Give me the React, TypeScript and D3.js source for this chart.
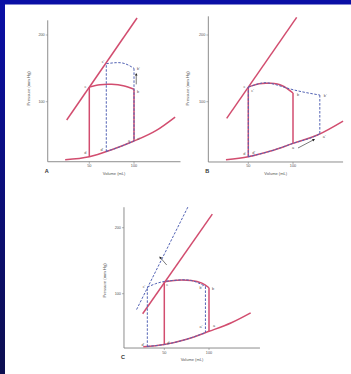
import React from "react";
import * as d3 from "d3";

// ---------- data ----------
const volumeTicks = [50, 100];
const pressureTicks = [100, 200];

// Panel A
const aEspvrV = [24.7, 103.4];
const aEspvrP = [72.6, 225.5];
const aEdpvrV = [23, 50, 75, 100, 125, 146];
const aEdpvrP = [13, 17.5, 28, 41, 57, 77];
const aLoopV = [50, 50, 62, 75, 88, 100, 100]; // d, c, arc..., b, a
const aLoopP = [17.5, 122, 125.5, 126, 124, 118.6, 41];
const aDashV = [69, 69, 80, 90, 100, 100]; // d', c', arc..., b', a'
const aDashP = [25, 157, 158.5, 157, 150, 41];

// Panel B
const bEspvrV = [25.8, 104.1];
const bEspvrP = [75, 226.5];
const bEdpvrV = [25, 50, 75, 100, 128, 156];
const bEdpvrP = [13, 17.5, 26, 37.5, 50.5, 71];
const bLoopV = [50, 50, 62, 75, 88, 100, 100];
const bLoopP = [17.5, 122, 127, 127.5, 124, 113, 37.5];
const bDashV = [50, 50, 62, 75, 100, 130, 130];
const bDashP = [17.5, 122, 127, 127.5, 118, 110, 50.5];

// Panel C
const cEspvrV = [25.8, 103.7];
const cEspvrP = [69.7, 220.6];
const cEspvr2V = [19, 77];
const cEspvr2P = [76, 233];
const cEdpvrV = [26.5, 50, 75, 100, 125, 146.6];
const cEdpvrP = [19.5, 23, 31, 43, 56, 71];
const cLoopV = [50, 50, 64, 80, 92, 100, 100];
const cLoopP = [23, 118, 120.5, 120, 116, 109, 43];
const cDashV = [31, 31, 40, 50, 64, 80, 96, 96];
const cDashP = [19.5, 110, 115, 118.5, 120.5, 120, 111, 41];

const RED = "#d24d6f";
const BLUE = "#5262b4";
const AXIS = "#808080";
const TXT = "#555";

type Lbl = { t: string; i: number; dx: number; dy: number; a: string };

type PanelProps = {
  ox: number; oy: number; ky: number;
  axisV: number; axisP: number; topP: number; endV: number;
  letter: string; titleX: number;
  espvrV: number[]; espvrP: number[];
  edV: number[]; edP: number[];
  loopV: number[]; loopP: number[];
  dashV: number[]; dashP: number[];
  dashEdFrom: number; dashEdTo: number;
  esp2V?: number[]; esp2P?: number[];
  arrow: [number, number, number, number];
  loopLabels: Lbl[];
  dashLabels: Lbl[];
};

function Panel(p: PanelProps) {
  const x = d3.scaleLinear().domain([0, 100]).range([p.ox, p.ox + 89.4]);
  const y = d3.scaleLinear().domain([0, 100]).range([p.oy, p.oy - p.ky * 100]);
  const pts = (vs: number[], ps: number[]) => vs.map((v, i) => [x(v), y(ps[i])] as [number, number]);
  const smooth = d3.line().curve(d3.curveMonotoneX);
  const straight = d3.line();
  const edPath = smooth(pts(p.edV, p.edP)) || "";
  const edFn = (v: number) => {
    for (let i = 0; i < p.edV.length - 1; i++) {
      if (v >= p.edV[i] && v <= p.edV[i + 1]) {
        const t = (v - p.edV[i]) / (p.edV[i + 1] - p.edV[i]);
        return p.edP[i] + t * (p.edP[i + 1] - p.edP[i]);
      }
    }
    return p.edP[p.edP.length - 1];
  };
  const edSegV = p.edV.filter((v) => v > p.dashEdFrom && v < p.dashEdTo);
  const edSegVs = [p.dashEdFrom, ...edSegV, p.dashEdTo];
  const edSegPath = smooth(pts(edSegVs, edSegVs.map(edFn))) || "";

  const lp = pts(p.loopV, p.loopP);
  const n = lp.length;
  const loopPaths = [
    straight([lp[0], lp[1]]) || "",
    d3.line().curve(d3.curveNatural)(lp.slice(1, n - 1)) || "",
    straight([lp[n - 2], lp[n - 1]]) || "",
  ];
  const dp = pts(p.dashV, p.dashP);
  const m = dp.length;
  const dashPaths = [
    straight([dp[0], dp[1]]) || "",
    d3.line().curve(d3.curveNatural)(dp.slice(1, m - 1)) || "",
    straight([dp[m - 2], dp[m - 1]]) || "",
  ];
  const [av1, ap1, av2, ap2] = p.arrow;
  const ax1 = x(av1), ay1 = y(ap1), ax2 = x(av2), ay2 = y(ap2);
  const ang = Math.atan2(ay2 - ay1, ax2 - ax1);
  const hl = 2.6, hw = 1.3;
  const head = `M${ax2},${ay2} L${ax2 - hl * Math.cos(ang) + hw * Math.sin(ang)},${ay2 - hl * Math.sin(ang) - hw * Math.cos(ang)} L${ax2 - hl * Math.cos(ang) - hw * Math.sin(ang)},${ay2 - hl * Math.sin(ang) + hw * Math.cos(ang)} Z`;

  const X0 = x(p.axisV), Y0 = y(p.axisP);
  const ff = "Liberation Sans, Arial, sans-serif";
  return (
    <g fontFamily={ff}>
      <line x1={X0} x2={X0} y1={y(p.topP)} y2={Y0} stroke={AXIS} strokeWidth={0.9} />
      <line x1={X0} x2={x(p.endV)} y1={Y0} y2={Y0} stroke={AXIS} strokeWidth={0.9} />
      {pressureTicks.map((t) => (
        <g key={"py" + t}>
          <line x1={X0 - 2} x2={X0} y1={y(t)} y2={y(t)} stroke={AXIS} strokeWidth={0.6} />
          <text x={X0 - 3} y={y(t)} fontSize={3.8} fill={TXT} textAnchor="end" dominantBaseline="middle">{t}</text>
        </g>
      ))}
      {volumeTicks.map((t) => (
        <g key={"vx" + t}>
          <line x1={x(t)} x2={x(t)} y1={Y0} y2={Y0 + 2} stroke={AXIS} strokeWidth={0.6} />
          <text x={x(t)} y={Y0 + 5.5} fontSize={3.8} fill={TXT} textAnchor="middle">{t}</text>
        </g>
      ))}
      <text x={(X0 + x(p.endV)) / 2} y={Y0 + 13} fontSize={4} fill={TXT} textAnchor="middle">Volume (mL)</text>
      <text x={X0 - 3} y={Y0 + 11} fontSize={5.5} fontWeight="bold" fill="#333">{p.letter}</text>
      <text transform={`translate(${p.titleX},${y(120)}) rotate(-90)`} fontSize={4.2} fill={TXT} textAnchor="middle">Pressure (mm Hg)</text>

      <path d={edPath} fill="none" stroke={RED} strokeWidth={1.5} />
      <path d={straight(pts(p.espvrV, p.espvrP)) || ""} fill="none" stroke={RED} strokeWidth={1.5} />
      {p.esp2V && p.esp2P && (
        <path d={straight(pts(p.esp2V, p.esp2P)) || ""} fill="none" stroke={BLUE} strokeWidth={1} strokeDasharray="2.5,1.5" />
      )}
      {loopPaths.map((d, i) => (
        <path key={"l" + i} d={d} fill="none" stroke={RED} strokeWidth={1.5} />
      ))}
      {dashPaths.map((d, i) => (
        <path key={"dp" + i} d={d} fill="none" stroke={BLUE} strokeWidth={1} strokeDasharray="2.5,1.5" />
      ))}
      <path d={edSegPath} fill="none" stroke={BLUE} strokeWidth={1} strokeDasharray="2.5,1.5" />
      <line x1={ax1} y1={ay1} x2={ax2 - 1.5 * Math.cos(ang)} y2={ay2 - 1.5 * Math.sin(ang)} stroke="#222" strokeWidth={0.6} />
      <path d={head} fill="#222" />

      {p.loopLabels.map((l, i) => (
        <text key={"ll" + i} x={lp[l.i][0] + l.dx} y={lp[l.i][1] + l.dy} fontSize={3.8} fill={TXT} textAnchor={l.a} dominantBaseline="middle">{l.t}</text>
      ))}
      {p.dashLabels.map((l, i) => (
        <text key={"dl" + i} x={dp[l.i][0] + l.dx} y={dp[l.i][1] + l.dy} fontSize={3.8} fill={TXT} textAnchor={l.a} dominantBaseline="middle">{l.t}</text>
      ))}
    </g>
  );
}

export default function App() {
  return (
    <svg width={351} height={374} style={{ position: "absolute", left: 0, top: 0 }}>
      <defs>
        <linearGradient id="bg" x1="0" y1="0" x2="0" y2="1">
          <stop offset="0" stopColor="#0a0fa6" />
          <stop offset="1" stopColor="#0d0f50" />
        </linearGradient>
      </defs>
      <rect x={0} y={0} width={351} height={374} fill="url(#bg)" />
      <rect x={5} y={4.5} width={346} height={369.5} fill="#ffffff" />
      <Panel
        ox={44.6} oy={168.4} ky={0.667}
        axisV={3.5} axisP={10} topP={222} endV={152}
        letter="A" titleX={30}
        espvrV={aEspvrV} espvrP={aEspvrP}
        edV={aEdpvrV} edP={aEdpvrP}
        loopV={aLoopV} loopP={aLoopP}
        dashV={aDashV} dashP={aDashP}
        dashEdFrom={69} dashEdTo={100}
        arrow={[102.5, 126, 102.5, 143]}
        loopLabels={[
          { t: "d", i: 0, dx: -3, dy: -4, a: "end" },
          { t: "c", i: 1, dx: -3, dy: 0, a: "end" },
          { t: "b", i: 5, dx: 3, dy: 3, a: "start" },
          { t: "a", i: 6, dx: -4, dy: 0, a: "end" },
        ]}
        dashLabels={[
          { t: "d'", i: 0, dx: -3, dy: -2, a: "end" },
          { t: "c'", i: 1, dx: -2, dy: -2, a: "end" },
          { t: "b'", i: 4, dx: 3, dy: 1, a: "start" },
          { t: "a'", i: 5, dx: 3, dy: -2, a: "start" },
        ]}
      />
      <Panel
        ox={203.6} oy={168.4} ky={0.667}
        axisV={5.3} axisP={9.6} topP={228} endV={156}
        letter="B" titleX={189}
        espvrV={bEspvrV} espvrP={bEspvrP}
        edV={bEdpvrV} edP={bEdpvrP}
        loopV={bLoopV} loopP={bLoopP}
        dashV={bDashV} dashP={bDashP}
        dashEdFrom={50} dashEdTo={130}
        arrow={[105.6, 30.6, 124.6, 44]}
        loopLabels={[
          { t: "d", i: 0, dx: -3, dy: -3, a: "end" },
          { t: "c", i: 1, dx: -3, dy: 0, a: "end" },
          { t: "b", i: 5, dx: 4, dy: 2, a: "start" },
          { t: "a", i: 6, dx: 0, dy: 5, a: "middle" },
        ]}
        dashLabels={[
          { t: "d'", i: 0, dx: 4, dy: -4, a: "start" },
          { t: "c'", i: 1, dx: 3, dy: 4, a: "start" },
          { t: "b'", i: 5, dx: 4, dy: 1, a: "start" },
          { t: "a'", i: 6, dx: 3, dy: 2, a: "start" },
        ]}
      />
      <Panel
        ox={119.6} oy={359.7} ky={0.66}
        axisV={4.9} axisP={17.7} topP={231} endV={157}
        letter="C" titleX={106}
        espvrV={cEspvrV} espvrP={cEspvrP}
        esp2V={cEspvr2V} esp2P={cEspvr2P}
        edV={cEdpvrV} edP={cEdpvrP}
        loopV={cLoopV} loopP={cLoopP}
        dashV={cDashV} dashP={cDashP}
        dashEdFrom={31} dashEdTo={96}
        arrow={[52.7, 143.5, 44.4, 156.5]}
        loopLabels={[
          { t: "d", i: 0, dx: 3, dy: -2, a: "start" },
          { t: "c", i: 1, dx: 2, dy: 3, a: "start" },
          { t: "b", i: 5, dx: 3, dy: 1, a: "start" },
          { t: "a", i: 6, dx: 4, dy: -5, a: "start" },
        ]}
        dashLabels={[
          { t: "d'", i: 0, dx: -3, dy: -2, a: "end" },
          { t: "c'", i: 1, dx: -2, dy: 0, a: "end" },
          { t: "b'", i: 6, dx: -3, dy: 2, a: "end" },
          { t: "a'", i: 7, dx: -3, dy: -6, a: "end" },
        ]}
      />
    </svg>
  );
}
